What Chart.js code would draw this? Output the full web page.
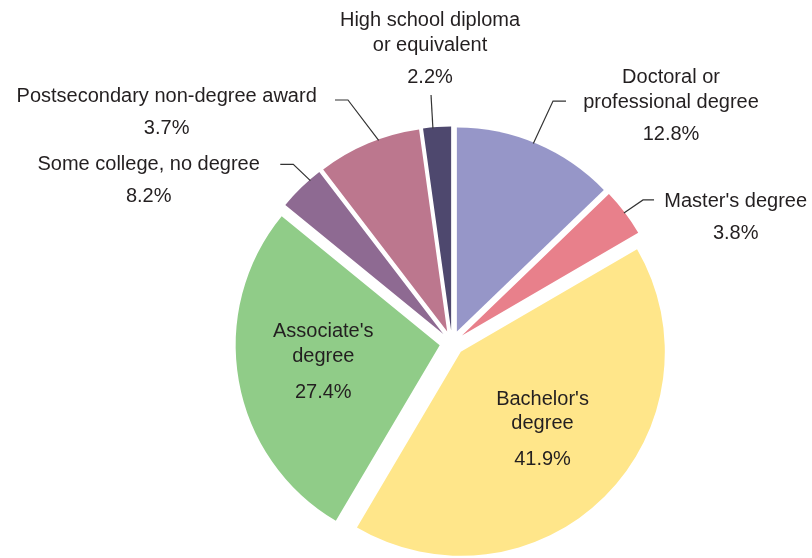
<!DOCTYPE html>
<html>
<head>
<meta charset="utf-8">
<script src="https://cdn.jsdelivr.net/npm/chart.js@4"></script>
<style>
  html, body { margin: 0; padding: 0; background: #fff; }
  canvas { display: block; }
</style>
</head>
<body>
<canvas id="eduPie" width="812" height="558"></canvas>
<script>
// slices, clockwise from 12 o'clock
const categories = [
  "Doctoral or professional degree",
  "Master's degree",
  "Bachelor's degree",
  "Associate's degree",
  "Some college, no degree",
  "Postsecondary non-degree award",
  "High school diploma or equivalent",
];
const labelLines = [
  ["Doctoral or", "professional degree"],
  ["Master's degree"],
  ["Bachelor's", "degree"],
  ["Associate's", "degree"],
  ["Some college, no degree"],
  ["Postsecondary non-degree award"],
  ["High school diploma", "or equivalent"],
];
// slice sizes as drawn
const values = [12.8, 3.8, 41.9, 27.4, 3.7, 8.2, 2.2];
// percentages as printed next to each label
const shareText = ["12.8%", "3.8%", "41.9%", "27.4%", "8.2%", "3.7%", "2.2%"];
const colors = ["#9696c8", "#e8808b", "#ffe68a", "#90cc88", "#8e6a92", "#bc778e", "#4e486e"];

const EXPLODE = 12.5;
const FONT = '20px "Liberation Sans", Arial, sans-serif';
const TEXT_COLOR = "#231f20";

// label placement relative to each slice (t = where the leader touches the arc)
const labelLayout = [
  { t: 0.48, elbow: [19.7, -42.4], tail: 13, text: [137.7, -60.4] },
  { t: 0.5, elbow: [19.1, -13.1], tail: 11, text: [111.8, -6.1] },
  { inside: [81.7, 53.1] },
  { inside: [-116.4, -7.9] },
  { t: 0.74, elbow: [-17.1, -16.3], tail: -13, text: [-161.7, -10.6] },
  { t: 0.6, elbow: [-30.7, -40.4], tail: -13, text: [-212, -38.4] },
  { t: 0.35, elbow: [-1.9, -33.3], tail: 0, text: [-2.9, -102.3] },
];

function sliceCenter(arc) {
  const mid = (arc.startAngle + arc.endAngle) / 2;
  return { x: arc.x + Math.cos(mid) * EXPLODE, y: arc.y + Math.sin(mid) * EXPLODE };
}

const explodePlugin = {
  id: "explode",
  beforeDatasetDraw(chart, args) {
    const ctx = chart.ctx;
    args.meta.data.forEach((arc) => {
      const mid = (arc.startAngle + arc.endAngle) / 2;
      ctx.save();
      ctx.translate(Math.cos(mid) * EXPLODE, Math.sin(mid) * EXPLODE);
      arc.draw(ctx);
      ctx.restore();
    });
    return false;
  },
};

const labelPlugin = {
  id: "sliceLabels",
  afterDatasetsDraw(chart) {
    const ctx = chart.ctx;
    const arcs = chart.getDatasetMeta(0).data;
    ctx.save();
    ctx.font = FONT;
    ctx.fillStyle = TEXT_COLOR;
    ctx.strokeStyle = "#333";
    ctx.lineWidth = 1.2;
    ctx.textAlign = "center";
    ctx.textBaseline = "alphabetic";
    arcs.forEach((arc, i) => {
      const lay = labelLayout[i];
      const c = sliceCenter(arc);
      const lines = labelLines[i];
      let tx, ty, pctGap;
      if (lay.inside) {
        tx = c.x + lay.inside[0];
        ty = c.y + lay.inside[1];
        pctGap = 36;
      } else {
        const a = arc.startAngle + lay.t * (arc.endAngle - arc.startAngle);
        const ax = c.x + Math.cos(a) * (arc.outerRadius - 1);
        const ay = c.y + Math.sin(a) * (arc.outerRadius - 1);
        const ex = ax + lay.elbow[0];
        const ey = ay + lay.elbow[1];
        ctx.beginPath();
        ctx.moveTo(ax, ay);
        ctx.lineTo(ex, ey);
        if (lay.tail) ctx.lineTo(ex + lay.tail, ey);
        ctx.stroke();
        tx = ax + lay.text[0];
        ty = ay + lay.text[1];
        pctGap = 32;
      }
      lines.forEach((ln, k) => ctx.fillText(ln, tx, ty + k * 24.5));
      ctx.fillText(shareText[i], tx, ty + (lines.length - 1) * 24.5 + pctGap);
    });
    ctx.restore();
  },
};

new Chart(document.getElementById("eduPie"), {
  type: "pie",
  data: {
    labels: categories,
    datasets: [
      {
        data: values,
        backgroundColor: colors,
        borderWidth: 0,
      },
    ],
  },
  options: {
    responsive: false,
    animation: false,
    radius: 204,
    layout: { padding: { left: 92, top: 128, right: 0, bottom: 0 } },
    plugins: {
      legend: { display: false },
      tooltip: { enabled: false },
    },
  },
  plugins: [explodePlugin, labelPlugin],
});
</script>
</body>
</html>
